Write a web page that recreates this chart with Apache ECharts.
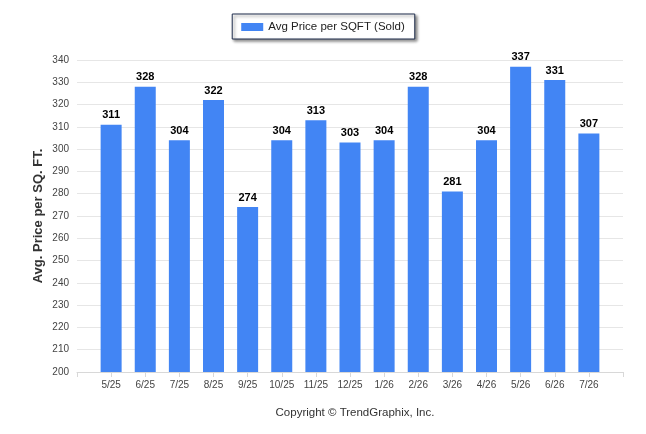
<!DOCTYPE html>
<html><head><meta charset="utf-8">
<script src="https://cdn.jsdelivr.net/npm/echarts@6/dist/echarts.min.js"></script>
<style>html,body{margin:0;padding:0;background:#fff}#c{width:646px;height:434px}</style>
</head><body><div id="c"></div>
<script>
const categories = ['5/25','6/25','7/25','8/25','9/25','10/25','11/25','12/25','1/26','2/26','3/26','4/26','5/26','6/26','7/26'];
const values = [311,328,304,322,274,304,313,303,304,328,281,304,337,331,307];
const yTicks = {min:200, max:340, step:10};
const yTitle = 'Avg. Price per SQ. FT.';

const chart = echarts.init(document.getElementById('c'));
chart.setOption({
  animation:false,
  textStyle:{fontFamily:'Liberation Sans, Arial, sans-serif'},
  title:{text:'Copyright © TrendGraphix, Inc.', left:350, textAlign:'center', top:402,
    textStyle:{fontSize:11.5, fontWeight:'normal', color:'#333'}},
  graphic:[{type:'text', x:38, y:216, rotation:Math.PI/2,
    style:{text:yTitle, fontSize:13, fontWeight:'bold', fill:'#333',
      fontFamily:'Liberation Sans, Arial, sans-serif', align:'center', verticalAlign:'middle'}}],
  legend:{left:'center', top:14, itemWidth:22, itemHeight:8, itemGap:5, padding:[7,10,6,9],
    borderColor:'#1f2d4d', borderWidth:1, backgroundColor:'#fff',
    shadowColor:'rgba(0,0,0,0.45)', shadowBlur:3, shadowOffsetX:2, shadowOffsetY:2,
    textStyle:{fontSize:11.5, color:'#222'}, icon:'rect'},
  grid:{left:77, right:23, top:60, bottom:62, containLabel:false},
  xAxis:{type:'value', min:-1, max:categories.length, interval:1,
    splitLine:{show:false},
    axisLine:{show:true, lineStyle:{color:'#d8d8d8'}},
    axisTick:{show:true, length:5, lineStyle:{color:'#d8d8d8'}},
    axisLabel:{fontSize:10, color:'#444', margin:8, showMinLabel:true, showMaxLabel:true,
      formatter:v=>categories[v]||''}},
  yAxis:{type:'value', min:yTicks.min, max:yTicks.max, interval:yTicks.step,
    axisLine:{show:false}, axisTick:{show:false},
    splitLine:{lineStyle:{color:'#e6e6e6'}},
    axisLabel:{fontSize:10, color:'#444', margin:8}},
  series:[{name:'Avg Price per SQFT (Sold)', type:'bar', barWidth:21,
    itemStyle:{color:'#4285f4'},
    label:{show:true, position:'top', distance:4, fontSize:11, fontWeight:'bold', color:'#000'},
    data:values.map((v,i)=>[i,v])}]
});
</script></body></html>
